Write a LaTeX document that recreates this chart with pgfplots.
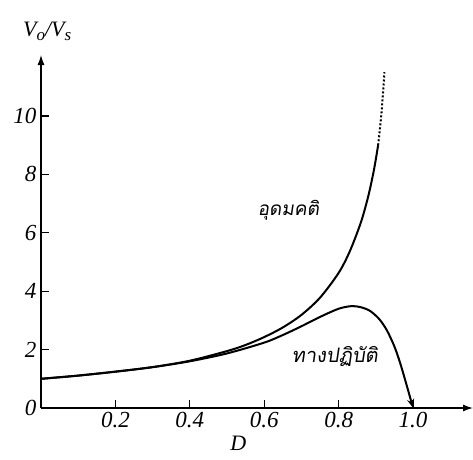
\documentclass[border=0pt]{standalone}
\usepackage{fontspec}
\setmainfont{Liberation Serif}
\newfontfamily\thaifont[Script=Thai,FakeSlant=0.15]{Loma}
\usepackage{pgfplots}
\pgfplotsset{compat=1.18}
\usetikzlibrary{arrows.meta}
\begin{document}
\begin{tikzpicture}
\begin{axis}[
  scale only axis,
  width=432pt, height=353pt,
  xmin=0, xmax=1.161, ymin=0, ymax=12.09,
  axis lines=left,
  axis line style={line width=1.3pt,-{Latex[length=10pt,width=7pt]}},
  clip=false,
  xtick={0.2,0.4,0.6,0.8,1.0},
  xticklabels={0.2,0.4,0.6,0.8,1.0},
  ytick={0,2,4,6,8,10},
  yticklabels={0,2,4,6,8,10},
  tick align=inside,
  major tick length=8pt,
  tick style={line width=1.3pt,black},
  /pgf/number format/assume math mode=true,
  xticklabel style={font=\fontsize{23}{26}\selectfont\itshape, yshift=-1pt},
  yticklabel style={font=\fontsize{23}{26}\selectfont\itshape, xshift=-1pt},
]
\coordinate (BL) at (axis cs:0,0);
% ideal curve (solid)
\addplot[black, line width=2pt, smooth] coordinates {
(0,1.0)(0.1,1.11)(0.2,1.245)(0.3,1.40)(0.4,1.62)(0.5,1.95)(0.55,2.16)
(0.6,2.43)(0.65,2.76)(0.7,3.19)(0.75,3.78)(0.8,4.63)(0.83,5.37)
(0.86,6.37)(0.88,7.28)(0.895,8.17)(0.906,9.0)};
% ideal curve (dotted continuation)
\addplot[black, line width=2pt, dotted, smooth] coordinates {
(0.906,9.0)(0.915,10.1)(0.923,11.5)};
% practical curve
\addplot[black, line width=2pt, smooth, -{Stealth[length=9pt,width=7pt]}] coordinates {
(0,1.0)(0.1,1.11)(0.2,1.245)(0.3,1.40)(0.4,1.60)(0.5,1.87)(0.6,2.24)
(0.65,2.5)(0.7,2.8)(0.75,3.12)(0.8,3.4)(0.835,3.49)(0.86,3.45)
(0.885,3.32)(0.91,3.03)(0.93,2.65)(0.95,2.1)(0.965,1.55)(0.98,0.9)(1.0,0.0)};
\node[font=\thaifont\fontsize{19}{22}\selectfont] at (axis cs:0.665,6.78) {อุดมคติ};
\node[font=\thaifont\fontsize{20}{24}\selectfont] at (axis cs:0.79,1.78) {ทางปฏิบัติ};
\node[font=\fontsize{22}{24}\selectfont\itshape, anchor=base, inner sep=0pt] at (axis cs:0.53,-1.45) {D};
\node[font=\fontsize{22}{24}\selectfont\itshape] at (axis cs:0.0165,12.9)
  {V\raisebox{-0.45ex}{\fontsize{17}{18}\selectfont o}/V\raisebox{-0.45ex}{\fontsize{17}{18}\selectfont s}};
\end{axis}
\pgfresetboundingbox
\path (BL) ++(-41pt,-51pt) rectangle ++(473pt,459pt);
\end{tikzpicture}
\end{document}
